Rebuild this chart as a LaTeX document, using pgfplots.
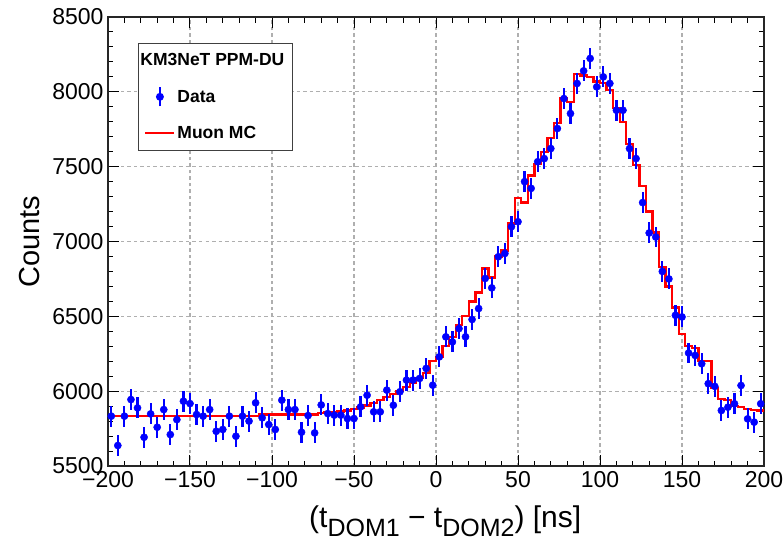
\documentclass[border=0pt]{standalone}
\usepackage{fontspec}
\setmainfont{Liberation Sans}
\usepackage{pgfplots}
\pgfplotsset{compat=1.18}
\usepackage{pgfplotstable}

\definecolor{rootblue}{RGB}{0,0,255}
\definecolor{rootred}{RGB}{255,0,0}
\definecolor{gridgray}{RGB}{175,175,175}

\pgfplotstableread{
x y
-198 5833
-194 5637
-190 5833
-186 5944
-182 5888
-178 5692
-174 5848
-170 5759
-166 5877
-162 5710
-158 5810
-154 5933
-150 5917
-146 5844
-142 5833
-138 5877
-134 5732
-130 5744
-126 5833
-122 5699
-118 5833
-114 5800
-110 5922
-106 5822
-102 5777
-98 5744
-94 5940
-90 5877
-86 5877
-82 5726
-78 5837
-74 5721
-70 5908
-66 5850
-62 5840
-58 5840
-54 5817
-50 5817
-46 5895
-42 5973
-38 5862
-34 5862
-30 6007
-26 5906
-22 5996
-18 6074
-14 6074
-10 6085
-6 6152
-2 6040
2 6229
6 6363
10 6329
14 6418
18 6363
22 6479
26 6552
30 6753
34 6690
38 6898
42 6920
46 7099
50 7132
54 7400
58 7355
62 7533
66 7554
70 7621
74 7755
78 7955
82 7855
86 8056
90 8140
94 8223
98 8033
102 8100
106 8056
110 7877
114 7877
118 7621
122 7554
126 7260
130 7057
134 7030
138 6800
142 6750
146 6507
150 6496
154 6255
158 6239
162 6183
166 6050
170 6032
174 5871
178 5893
182 5916
186 6038
190 5815
194 5793
198 5916
}\datatable

\pgfplotstableread{
x y
-200 5835
-108 5845
-72 5855
-68 5858
-64 5860
-60 5865
-56 5870
-52 5880
-48 5890
-44 5905
-40 5920
-36 5940
-32 5960
-28 5980
-24 6000
-20 6030
-16 6055
-12 6090
-8 6120
-4 6200
0 6230
4 6300
8 6360
12 6440
16 6500
20 6600
24 6660
28 6820
32 6760
36 6900
40 6940
44 7120
48 7290
52 7260
56 7440
60 7520
64 7600
68 7690
72 7790
76 7960
80 7930
84 8120
88 8110
92 8100
96 8070
100 8060
104 8010
108 7890
112 7800
116 7650
120 7510
124 7370
128 7200
132 7060
136 6830
140 6700
144 6560
148 6380
152 6300
156 6290
160 6200
164 6200
168 6020
172 5950
176 5940
180 5900
184 5895
188 5880
192 5875
196 5870
200 5870
}\mctable

\begin{document}
\begin{tikzpicture}
\useasboundingbox (-108pt,-78pt) rectangle (676pt,466pt);
\begin{axis}[
  at={(0pt,0pt)}, anchor=south west,
  scale only axis, width=656pt, height=449pt,
  xmin=-200, xmax=200, ymin=5500, ymax=8500,
  clip=false,
  tick pos=both, tick align=inside,
  xtick={-200,-150,...,200},
  xticklabels={−200,−150,−100,−50,0,50,100,150,200},
  ytick={5500,6000,...,8500},
  yticklabels={5500,6000,6500,7000,7500,8000,8500},
  minor x tick num=4, minor y tick num=4,
  major tick length=11pt, minor tick length=5.5pt,
  every tick/.style={black, line width=1pt},
  axis line style={black!85, line width=1.3pt},
  grid=major,
  major grid style={gridgray, line width=1.1pt, dash pattern=on 3.5pt off 3pt},
  /pgf/number format/assume math mode=true,
  xticklabel style={font=\fontsize{23}{23}\selectfont, yshift=-2pt},
  yticklabel style={font=\fontsize{23}{23}\selectfont, xshift=-1pt},
  xlabel={(t\raisebox{-0.3em}{\fontsize{25}{25}\selectfont DOM1} − t\raisebox{-0.3em}{\fontsize{25}{25}\selectfont DOM2}) [ns]},
  xlabel style={font=\fontsize{30}{30}\selectfont, at={(axis description cs:0.514,-0.136)}, anchor=base},
  ylabel={Counts},
  ylabel style={font=\fontsize{29}{29}\selectfont, at={(axis description cs:-0.119,0.5)}, anchor=center},
  legend cell align=left,
  legend style={at={(axis description cs:0.0457,0.942)}, anchor=north west,
    draw=black!75, fill=white, line width=0.9pt,
    font=\fontsize{17.5}{17.5}\selectfont\bfseries,
    row sep=17pt, inner xsep=6pt, inner ysep=8pt,
    /tikz/every even column/.append style={column sep=7pt}},
]
\addlegendimage{empty legend}
\addlegendentry{\hspace*{-37pt}KM3NeT PPM-DU}
\addlegendimage{legend image code/.code={
  \path[draw=none, fill=none] (0pt,-9pt) rectangle (29pt,9pt);
  \draw[draw=rootblue, line width=2.2pt] (14.5pt,-9.5pt) -- (14.5pt,9.5pt);
  \fill[fill=rootblue, draw=none] (14.5pt,0pt) circle (4pt);}}
\addlegendentry{Data}
\addlegendimage{legend image code/.code={
  \draw[draw=rootred, line width=2pt] (0pt,0pt) -- (29pt,0pt);}}
\addlegendentry{Muon MC}

\addplot[forget plot, const plot mark left, rootred, line width=2.3pt] table[x=x,y=y] {\mctable};
\addplot[forget plot, only marks, mark=*, mark size=3.6pt,
  mark options={rootblue, fill=rootblue},
  error bars/.cd, y dir=both, y fixed=70,
  error mark=none, error bar style={rootblue, line width=2.2pt}]
  table[x=x,y=y] {\datatable};
\end{axis}
\end{tikzpicture}
\end{document}
